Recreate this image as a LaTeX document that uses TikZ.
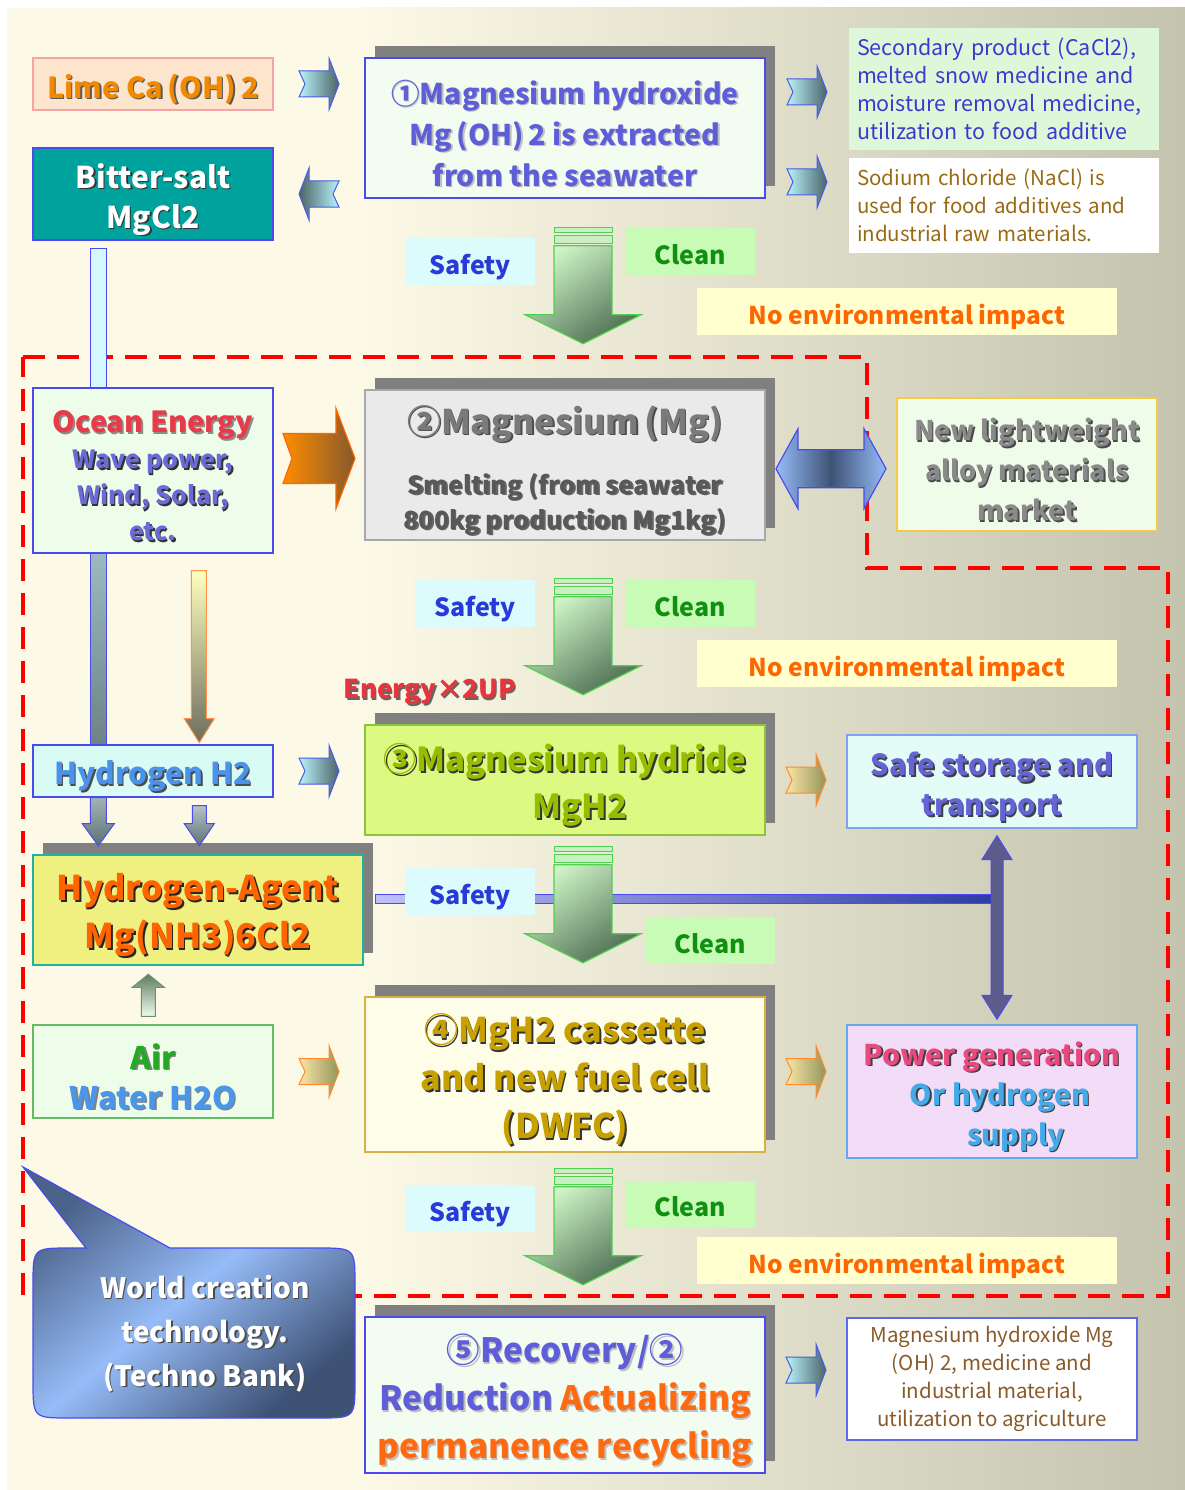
\documentclass[tikz,border=0pt]{standalone}
\usepackage{fontspec}
\setmainfont{Noto Sans CJK JP}
\usetikzlibrary{calc,shadows}

\definecolor{bgcream}{HTML}{FCFAE6}
\definecolor{bggray}{HTML}{C4C3AE}
\definecolor{dashred}{HTML}{FF0000}
\definecolor{boxblue}{HTML}{4A4AF0}
\definecolor{shadowgray}{HTML}{808080}
\definecolor{limefill}{HTML}{FDE4CC}
\definecolor{limeborder}{HTML}{F5A3A3}
\definecolor{limetext}{HTML}{F18A00}
\definecolor{bitterteal}{HTML}{00A29D}
\definecolor{palefill}{HTML}{F3FCF0}
\definecolor{purpletext}{HTML}{5E5ED8}
\definecolor{secfill}{HTML}{DDF8D8}
\definecolor{sectext}{HTML}{3A3AD0}
\definecolor{sodiumtext}{HTML}{9A6A12}
\definecolor{safetyfill}{HTML}{DCFBFD}
\definecolor{safetytext}{HTML}{2A3AD8}
\definecolor{cleanfill}{HTML}{C8FCB6}
\definecolor{cleantext}{HTML}{109010}
\definecolor{envfill}{HTML}{FFFFD0}
\definecolor{envtext}{HTML}{FF6600}
\definecolor{greenwhite}{HTML}{EEFCEA}
\definecolor{oceantext}{HTML}{E83A48}
\definecolor{wavetext}{HTML}{6A6AD8}
\definecolor{mgfill}{HTML}{EAEAEA}
\definecolor{mgborder}{HTML}{A8A8A8}
\definecolor{mgtext}{HTML}{7A7A7A}
\definecolor{smelttext}{HTML}{585858}
\definecolor{lwfill}{HTML}{F0FCEA}
\definecolor{lwborder}{HTML}{F8C848}
\definecolor{lwtext}{HTML}{8A8A8A}
\definecolor{energyred}{HTML}{E8343C}
\definecolor{hydridefill}{HTML}{DCFA82}
\definecolor{hydrideborder}{HTML}{8CC43C}
\definecolor{hydridetext}{HTML}{96BE00}
\definecolor{h2fill}{HTML}{D8FCF4}
\definecolor{h2text}{HTML}{4A92EA}
\definecolor{agentfill}{HTML}{F0F080}
\definecolor{agentborder}{HTML}{22B2A2}
\definecolor{agenttext}{HTML}{FF6400}
\definecolor{airborder}{HTML}{66BB66}
\definecolor{airtext}{HTML}{22AA22}
\definecolor{watertext}{HTML}{4A96EA}
\definecolor{casfill}{HTML}{FEFEE8}
\definecolor{casborder}{HTML}{D8B048}
\definecolor{castext}{HTML}{C8A000}
\definecolor{safefill}{HTML}{E4FCF8}
\definecolor{safeborder}{HTML}{80A0F0}
\definecolor{safetext}{HTML}{6464D4}
\definecolor{powerfill}{HTML}{F2DCF8}
\definecolor{powerborder}{HTML}{66A8F0}
\definecolor{powertext}{HTML}{E84A80}
\definecolor{orhtext}{HTML}{44AAE8}
\definecolor{recorange}{HTML}{FF6A10}
\definecolor{mgoutborder}{HTML}{5A6AF0}
\definecolor{mgouttext}{HTML}{8A5A28}
\definecolor{chevblue}{HTML}{4A5AE8}
\definecolor{chevlight}{HTML}{B8F4FA}
\definecolor{chevdark}{HTML}{4A6468}
\definecolor{chevorange}{HTML}{FF8A30}
\definecolor{ochevlight}{HTML}{FCE6A4}
\definecolor{ochevdark}{HTML}{94945C}
\definecolor{stripegreen}{HTML}{50D050}
\definecolor{stripefill}{HTML}{C8F0C0}
\definecolor{glight}{HTML}{D0F6C8}
\definecolor{gdark}{HTML}{4E6E52}
\definecolor{calllight}{HTML}{96BCF8}
\definecolor{calldark}{HTML}{3E5276}
\colorlet{HTMLorange}{orange!80!red}

% text with a drop shadow, set a little low
\newcommand{\txtsh}[2][black!65]{\raisebox{-6pt}[\height][\depth]{\makebox[0pt][l]{\kern1.5pt\raisebox{-1.5pt}{\color{#1}\def\textcolor##1##2{##2}#2}}#2}}
\newcommand{\bfs}[2]{\fontsize{#1}{#2}\selectfont\bfseries}

\tikzset{
  chev/.pic={
    \shade[#1] (-20,-13) -- (10,-13) -- (10,-26) -- (20,0) -- (10,26) -- (10,13) -- (-20,13) -- (-14,0) -- cycle;
  },
  chevback/.pic={
    \shade[#1] (20,-13) -- (-10,-13) -- (-10,-26) -- (-20,0) -- (-10,26) -- (-10,13) -- (20,13) -- (14,0) -- cycle;
  },
  greendown/.pic={
    \filldraw[draw=stripegreen, fill=stripefill, line width=1pt] (-29,0) rectangle (29,5);
    \filldraw[draw=stripegreen, fill=stripefill, line width=1pt] (-29,8) rectangle (29,16);
    \shade[draw=stripegreen, line width=1.2pt, top color=glight, bottom color=gdark, shading angle=35]
      (-29,18) -- (29,18) -- (29,87) -- (58,87) -- (0,116) -- (-58,87) -- (-29,87) -- cycle;
  },
  bigorange/.pic={
    \shade[draw=HTMLorange, left color=orange!90!yellow, right color=brown!70!black, line width=1.2pt]
      (-36,-25) -- (17,-25) -- (17,-50) -- (36,0) -- (17,50) -- (17,25) -- (-36,25) -- (-27,0) -- cycle;
  },
  dblarrow/.pic={
    \shade[draw=boxblue, line width=1.2pt, left color=calllight, right color=calllight, middle color=calldark]
      (-55,0) -- (-33,-40) -- (-33,-19) -- (33,-19) -- (33,-40) -- (55,0) -- (33,40) -- (33,19) -- (-33,19) -- (-33,40) -- cycle;
  }
}

\begin{document}
\begin{tikzpicture}[x=1pt, y=-1pt,
  bx/.style 2 args={minimum width=#1pt, minimum height=#2pt, inner sep=0pt, align=center, line width=1.4pt},
  shbox/.style={general shadow={fill=shadowgray, shadow xshift=10pt, shadow yshift=12pt}},
  labeltag/.style={minimum height=47pt, inner sep=0pt, text height=25pt, text depth=0pt, font=\bfs{25}{30}},
  safetag/.style={labeltag, minimum width=130pt, fill=safetyfill, text=safetytext},
  cleantag/.style={labeltag, minimum width=130pt, fill=cleanfill, text=cleantext},
  envtag/.style={labeltag, minimum width=420pt, fill=envfill, text=envtext, font=\bfs{24.5}{30}},
  cyanchev/.style={draw=chevblue, line width=1pt, left color=chevlight, right color=chevdark},
  cyanchevback/.style={draw=chevblue, line width=1pt, left color=chevdark, right color=chevlight},
  orangechev/.style={draw=chevorange, line width=1pt, left color=ochevlight, right color=ochevdark}]
\useasboundingbox (0,0) rectangle (1185,1490);

% background
\fill[bgcream] (7,8) rectangle (360,1490);
\shade[left color=bgcream, right color=bggray] (359,8) rectangle (1185,1490);

% dashed frame
\draw[dashred, line width=4pt, dash pattern=on 22pt off 12pt]
  (23,357) -- (867,357) -- (867,568) -- (1168,568) -- (1168,1296) -- (23,1296) -- cycle;

% boxes
\node[bx={240}{52}, draw=limeborder, fill=limefill, text=limetext, font=\bfs{29}{34}] (lime) at (153,84) {\txtsh{Lime Ca\,(OH)\,2}};
\node[bx={240}{92}, draw=boxblue, fill=bitterteal, text=white, font=\bfs{30}{40}] (bitter) at (153,194) {\txtsh[black!80]{Bitter-salt}\\\txtsh[black!80]{MgCl2}};
\node[bx={400}{140}, shbox, draw=boxblue, fill=palefill, text=purpletext, font=\bfs{28.5}{41}] (hydroxide) at (565,128)
  {\txtsh[black!25]{①Magnesium hydroxide}\\\txtsh[black!25]{Mg\,(OH)\,2 is extracted}\\\txtsh[black!25]{from the seawater}};
\node[bx={310}{122}, fill=secfill, text=sectext, text width=294pt, align=left, font=\fontsize{21.5}{28}\selectfont] (byproduct) at (1004,89)
  {Secondary product (CaCl2),\\melted snow medicine and\\moisture removal medicine,\\utilization to food additive};
\node[bx={310}{95}, fill=white, text=sodiumtext, text width=294pt, align=left, font=\fontsize{20.5}{28}\selectfont] (sodium) at (1004,205.5)
  {Sodium chloride (NaCl) is\\used for food additives and\\industrial raw materials.};

\node[bx={240}{165}, draw=boxblue, fill=greenwhite, text=oceantext, font=\bfs{29}{36}] (ocean) at (153,470.5)
  {\txtsh[black!45]{Ocean Energy}\\
   {\bfs{25}{36}\color{wavetext}\txtsh[black!80]{Wave power,}}\\
   {\bfs{25}{36}\color{wavetext}\txtsh[black!80]{Wind, Solar,}}\\
   {\bfs{25}{36}\color{wavetext}\txtsh[black!80]{etc.}}};
\node[bx={400}{150}, shbox, draw=mgborder, fill=mgfill, text=mgtext, font=\bfs{34}{35}] (magnesium) at (565,465)
  {\txtsh[black!70]{②Magnesium\,(Mg)}\\[25pt]
   {\bfs{25}{35}\color{smelttext}\txtsh[black!60]{Smelting (from seawater}}\\
   {\bfs{25}{35}\color{smelttext}\txtsh[black!60]{800kg production Mg1kg)}}};
\node[bx={260}{133}, draw=lwborder, fill=lwfill, text=lwtext, font=\bfs{27}{40}] (alloy) at (1027,464.5)
  {\txtsh[black!70]{New lightweight}\\\txtsh[black!70]{alloy materials}\\\txtsh[black!70]{market}};

\node[bx={400}{110}, shbox, draw=hydrideborder, fill=hydridefill, text=hydridetext, font=\bfs{33}{47}] (hydride) at (565,780)
  {\txtsh[black!80]{③Magnesium hydride}\\\hspace*{30pt}\txtsh[black!80]{MgH2}};
\node[bx={240}{52}, draw=boxblue, fill=h2fill, text=h2text, font=\bfs{30}{34}] (hydrogen) at (153,771) {\txtsh[black!70]{Hydrogen H2}};
\node[bx={330}{110}, shbox, draw=agentborder, fill=agentfill, text=agenttext, font=\bfs{34}{48}] (agent) at (198,910)
  {\txtsh[black!85]{Hydrogen-Agent}\\\txtsh[black!85]{Mg(NH3)6Cl2}};
\node[bx={290}{93}, draw=safeborder, fill=safefill, text=safetext, font=\bfs{29}{40}] (storage) at (992,781.5)
  {\txtsh[black!75]{Safe storage and}\\\txtsh[black!75]{transport}};

\node[bx={240}{93}, draw=airborder, fill=greenwhite, font=\bfs{31}{40}] (air) at (153,1071.5)
  {\txtsh[black!50]{\textcolor{airtext}{Air}}\\\txtsh[black!50]{\textcolor{watertext}{Water H2O}}};
\node[bx={400}{155}, shbox, draw=casborder, fill=casfill, text=castext, font=\bfs{34}{48}] (cassette) at (565,1074.5)
  {\txtsh[black!80]{④MgH2 cassette}\\\txtsh[black!80]{and new fuel cell}\\\txtsh[black!80]{(DWFC)}};
\node[bx={290}{133}, draw=powerborder, fill=powerfill, font=\bfs{28.5}{40}] (power) at (992,1091.5)
  {\txtsh[black!75]{\textcolor{powertext}{Power generation}}\\\hspace*{16pt}\txtsh[black!75]{\textcolor{orhtext}{Or hydrogen}}\\\hspace*{48pt}\txtsh[black!75]{\textcolor{orhtext}{supply}}};

\node[bx={400}{156}, shbox, draw=boxblue, fill=palefill, font=\bfs{33.5}{48}] (recovery) at (565,1395)
  {\txtsh[black!25]{\textcolor{purpletext}{⑤Recovery/②}}\\
   \txtsh[black!25]{\textcolor{purpletext}{Reduction} \textcolor{recorange}{Actualizing}}\\
   \txtsh[black!25]{\textcolor{recorange}{permanence recycling}}};
\node[bx={290}{122}, draw=mgoutborder, fill=white, text=mgouttext, font=\fontsize{20.5}{28}\selectfont] (reuse) at (992,1379)
  {Magnesium hydroxide Mg\\(OH) 2, medicine and\\industrial material,\\utilization to agriculture};

% bars on the left
\filldraw[draw=boxblue, fill=chevlight!60, line width=1pt] ([xshift=58pt,yshift=-8pt]bitter.south west) rectangle ([xshift=74pt]ocean.north west);
\shade[draw=boxblue, line width=1pt, top color=chevlight!50!gray, bottom color=chevdark!80] ([xshift=58pt]ocean.south west) rectangle ([xshift=74pt]hydrogen.north west);
\shade[draw=HTMLorange!70, line width=1pt, top color=yellow!25, bottom color=chevdark!70!brown]
  ([xshift=159pt,yshift=-17pt]ocean.south west) -- ++(0,148) -- ++(-7,0) -- ++(15,24) -- ++(15,-24) -- ++(-8,0) -- ++(0,-148) -- cycle;
\shade[draw=boxblue, line width=1pt, top color=chevdark!50, bottom color=chevdark!90]
  ([xshift=58pt]hydrogen.south west) -- ++(0,26) -- ++(-8,0) -- ++(16,22) -- ++(16,-22) -- ++(-8,0) -- ++(0,-26) -- cycle;
\shade[draw=boxblue, line width=1pt, top color=chevdark!40, bottom color=chevdark!90]
  ([xshift=160pt,yshift=-8pt]hydrogen.south west) -- ++(0,18) -- ++(-8,0) -- ++(15,22) -- ++(15,-22) -- ++(-8,0) -- ++(0,-18) -- cycle;
\shade[draw=gdark!80, line width=1pt, top color=gdark!90, bottom color=greenwhite]
  ([xshift=109pt,yshift=8pt]air.north west) -- ++(0,-29) -- ++(-9,0) -- ++(16,-13) -- ++(16,13) -- ++(-9,0) -- ++(0,29) -- cycle;

% bar to storage and power
\shade[draw=boxblue, line width=1pt, left color=boxblue!35, right color=chevdark!60!blue]
  ([xshift=12pt,yshift=16pt]agent.east) rectangle ([xshift=5pt,yshift=7pt]agent.east -| storage.south);
\path ([xshift=5pt,yshift=-7pt]storage.south) coordinate (vtop) ([xshift=5pt,yshift=5pt]power.north) coordinate (vbot);
\filldraw[draw=boxblue, fill=black!35!boxblue!45!gray, line width=1pt]
  (vtop) -- ($(vtop)+(15,24)$) -- ($(vtop)+(6,24)$) -- ($(vbot)+(6,-24)$) -- ($(vbot)+(15,-24)$) -- (vbot)
  -- ($(vbot)+(-15,-24)$) -- ($(vbot)+(-6,-24)$) -- ($(vtop)+(-6,24)$) -- ($(vtop)+(-15,24)$) -- cycle;

% tags
\node[safetag] (safety1) at (470,261.5) {Safety};
\node[cleantag] (clean1) at (690,251.5) {Clean};
\node[envtag] (impact1) at (907,311.5) {No environmental impact};
\node[safetag, minimum width=120pt] (safety2) at (475,603.5) {Safety};
\node[cleantag] (clean2) at (690,603.5) {Clean};
\node[envtag] (impact2) at (907,663.5) {No environmental impact};
\node[safetag] (safety3) at (470,891.5) {Safety};
\node[cleantag] (clean3) at (710,940.5) {Clean};
\node[safetag] (safety4) at (470,1208.5) {Safety};
\node[cleantag] (clean4) at (690,1204) {Clean};
\node[envtag] (impact4) at (907,1260.5) {No environmental impact};
\node[text=energyred, font=\bfs{26}{28}] (gain) at (430,687) {\txtsh[black!60]{Energy×2UP}};

% block arrows
\pic at ($(lime.east)!.5!(lime.east -| hydroxide.west)$) {chev=cyanchev};
\pic at ($(bitter.east)!.5!(bitter.east -| hydroxide.west)$) {chevback=cyanchevback};
\pic at ($(hydroxide.east)!.5!(hydroxide.east -| byproduct.west) + (0,-36)$) {chev=cyanchev};
\pic at ($(hydroxide.east)!.5!(hydroxide.east -| sodium.west) + (0,54)$) {chev=cyanchev};
\pic at ($(hydrogen.east)!.5!(hydrogen.east -| hydride.west)$) {chev=cyanchev};
\pic at ($(hydride.east)!.5!(hydride.east -| storage.west)$) {chev=orangechev};
\pic at ($(air.east)!.5!(air.east -| cassette.west)$) {chev=orangechev};
\pic at ($(cassette.east)!.5!(cassette.east -| power.west) + (0,-3)$) {chev=orangechev};
\pic at ($(recovery.east)!.5!(recovery.east -| reuse.west) + (0,-25)$) {chev=cyanchev};
\pic at ($(ocean.east)!.5!(ocean.east -| magnesium.west) + (0,-12)$) {bigorange};
\pic at ($(magnesium.east)!.5!(alloy.west) + (0,4)$) {dblarrow};

\pic at ($(hydroxide.south)+(18,29)$) {greendown};
\pic at ($(magnesium.south)+(18,38)$) {greendown};
\pic at ($(hydride.south)+(18,11)$) {greendown};
\pic at ($(cassette.south)+(18,16)$) {greendown};

% callout
\shade[draw=boxblue, line width=1.2pt, top color=calldark!85!calllight, bottom color=calldark, middle color=calllight, shading angle=40]
  (23,1167) -- (170,1248) -- (318,1248) .. controls (355,1248) .. (355,1285) -- (355,1381) .. controls (355,1418) .. (318,1418)
  -- (70,1418) .. controls (33,1418) .. (33,1381) -- (33,1285) .. controls (33,1248) .. (70,1248) -- (86,1248) -- cycle;
\node[text=white, align=center, font=\bfs{28}{44}] (bank) at (205,1328)
  {\txtsh[black!70]{World creation}\\\txtsh[black!70]{technology.}\\\txtsh[black!70]{(Techno Bank)}};
\end{tikzpicture}
\end{document}
